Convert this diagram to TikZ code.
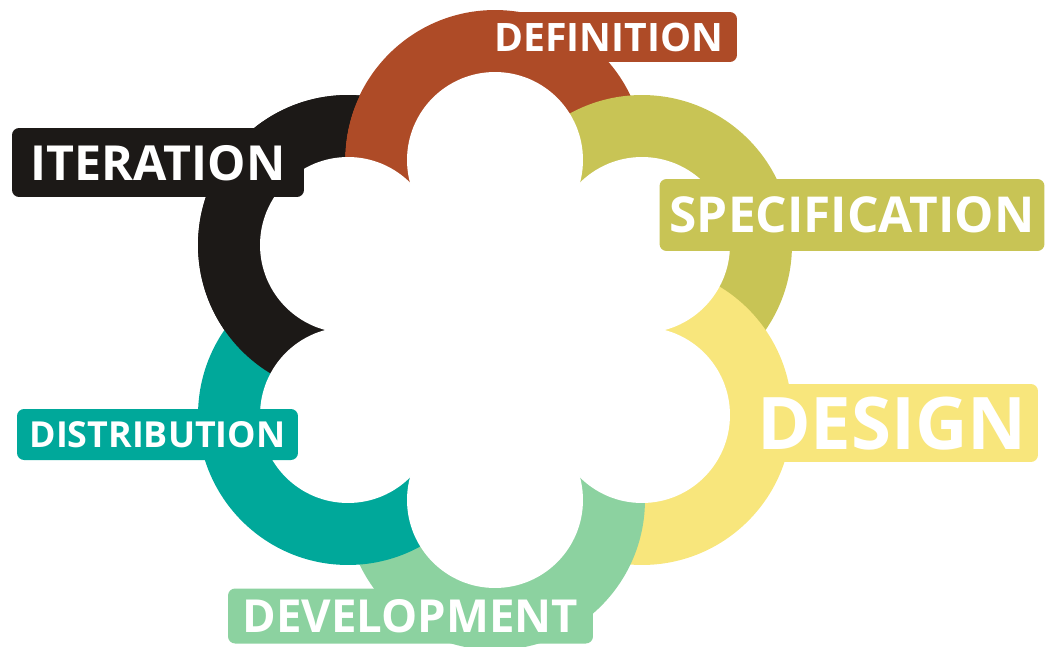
\documentclass[tikz,border=0pt]{standalone}
\usepackage{fontspec}
\setsansfont{Open Sans}
\usepackage{tikz}

\definecolor{coliter}{RGB}{28,25,23}
\definecolor{coldef}{RGB}{174,75,39}
\definecolor{colspec}{RGB}{200,196,85}
\definecolor{coldesign}{RGB}{248,230,124}
\definecolor{coldev}{RGB}{140,210,160}
\definecolor{coldist}{RGB}{0,168,154}

\begin{document}
\begin{tikzpicture}[x=0.02cm, y=-0.02cm]
		% Stile comune per le etichette delle fasi
		\tikzset{
			fase/.style={
				fill=#1,
				rounded corners=4pt,
				text=white,
				inner sep=0pt,
				text depth=0pt,
				align=center
			}
		}
		\useasboundingbox (0,0) rectangle (1045,646);
		
		% Centri dei petali
		\coordinate (iteration) at (348,245);
		\coordinate (definition) at (495,160);
		\coordinate (specification) at (642,245);
		\coordinate (design) at (642,415);
		\coordinate (development) at (495,500);
		\coordinate (distribution) at (348,415);
		
		% Anelli colorati, ognuno sopra il precedente
		\fill[coliter] (iteration) circle[radius=3cm];
		\fill[coldef] (definition) circle[radius=3cm];
		\fill[colspec] (specification) circle[radius=3cm];
		\fill[coldesign] (design) circle[radius=3cm];
		\fill[coldev] (development) circle[radius=3cm];
		\fill[coldist] (distribution) circle[radius=3cm];
		
		% Chiusura del ciclo: ITERATION di nuovo sopra, tranne dove c'e' DEFINITION
		\begin{scope}[even odd rule]
			\clip (0,0) rectangle (1045,646) (definition) circle[radius=3cm];
			\fill[coliter] (iteration) circle[radius=3cm];
		\end{scope}
		
		% Fiore bianco al centro
		\fill[white] (iteration) -- (definition) -- (specification) -- (design)
		-- (development) -- (distribution) -- cycle;
		\foreach \p in {iteration, definition, specification, design, development, distribution}
		\fill[white] (\p) circle[radius=1.76cm];
		
		% Etichette
		\node[fase=coldef, minimum width=5.12cm, minimum height=1cm,
		font=\sffamily\bfseries\fontsize{22.3}{22.3}\selectfont] (deflabel) at (609,37) {DEFINITION};
		\node[fase=coliter, minimum width=5.84cm, minimum height=1.38cm,
		font=\sffamily\bfseries\fontsize{27.5}{27.5}\selectfont] (iterlabel) at (158,162.5) {ITERATION};
		\node[fase=colspec, minimum width=7.7cm, minimum height=1.44cm,
		font=\sffamily\bfseries\fontsize{28.2}{28.2}\selectfont] (speclabel) at (852,215) {SPECIFICATION};
		\node[fase=coldesign, minimum width=5.84cm, minimum height=1.56cm,
		font=\sffamily\bfseries\fontsize{41.3}{41.3}\selectfont] (designlabel) at (892,423) {DESIGN};
		\node[fase=coldist, minimum width=5.62cm, minimum height=1.02cm,
		font=\sffamily\bfseries\fontsize{20.4}{20.4}\selectfont] (distlabel) at (157.5,434.5) {DISTRIBUTION};
		\node[fase=coldev, minimum width=7.3cm, minimum height=1.1cm,
		font=\sffamily\bfseries\fontsize{25.9}{25.9}\selectfont] (devlabel) at (410.5,616) {DEVELOPMENT};
	\end{tikzpicture}
\end{document}
